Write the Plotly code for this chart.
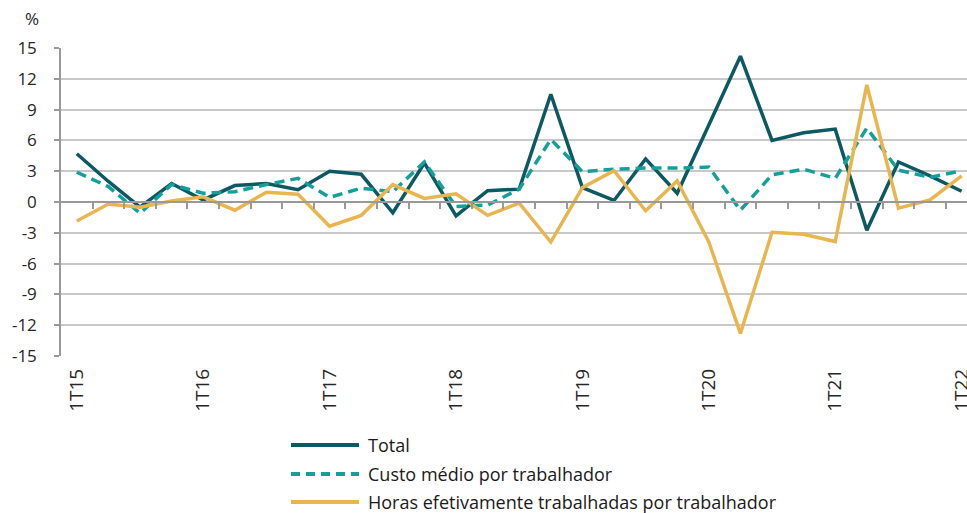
import plotly.graph_objects as go

quarters = [f"{q}T{y}" for y in range(15, 23) for q in range(1, 5)][:29]

total = [4.7, 2.0, -0.5, 1.8, 0.2, 1.6, 1.8, 1.2, 3.0, 2.7, -1.05, 3.8, -1.35, 1.1, 1.25,
         10.5, 1.4, 0.15, 4.2, 0.85, 7.5, 14.2, 6.0, 6.75, 7.1, -2.75, 3.9, 2.55, 1.05]
custo = [2.9, 1.5, -1.1, 1.7, 0.85, 1.0, 1.7, 2.3, 0.45, 1.35, 1.0, 3.9, -0.45, -0.3, 1.25,
         6.1, 2.95, 3.2, 3.3, 3.3, 3.4, -0.8, 2.65, 3.2, 2.3, 7.2, 3.1, 2.4, 3.05]
horas = [-1.85, -0.2, -0.5, 0.1, 0.5, -0.8, 0.95, 0.75, -2.35, -1.3, 1.7, 0.35, 0.8, -1.3, -0.1,
         -3.9, 1.4, 3.05, -0.85, 2.05, -3.9, -12.8, -2.95, -3.15, -3.85, 11.4, -0.6, 0.2, 2.55]

series_names = ["Total", "Custo médio por trabalhador", "Horas efetivamente trabalhadas por trabalhador"]
series_colors = ["#0d5963", "#14a09a", "#e9b54e"]
series_dash = ["solid", "10px,6px", "solid"]

tick_idx = list(range(0, 29, 4))
tick_text = [quarters[i] for i in tick_idx]
y_ticks = list(range(-15, 16, 3))
y_text = [str(v) for v in y_ticks]

x = list(range(len(quarters)))

fig = go.Figure()
for vals, name, col, dash in zip([total, custo, horas], series_names, series_colors, series_dash):
    fig.add_trace(go.Scatter(x=x, y=vals, mode="lines", name=name, showlegend=False,
                             line=dict(color=col, width=3.5, dash=dash)))
# invisible trace carrying the zero-line axis with its tick marks
fig.add_trace(go.Scatter(x=[0, 28], y=[0, 0], xaxis="x2", mode="lines", line=dict(width=0),
                         showlegend=False, hoverinfo="skip"))

# manual legend (long line samples like the reference)
W, H, L, T, B = 967, 513, 61, 48, 157
PW, PH = W - L, H - T - B
def px(xp):
    return (xp - L) / PW
def py(yp):
    return (H - B - yp) / PH

shapes = []
annotations = []
legend_y = [445, 474, 502]
for name, col, dash, yy in zip(series_names, series_colors, series_dash, legend_y):
    shapes.append(dict(type="line", xref="paper", yref="paper", x0=px(291), x1=px(359),
                       y0=py(yy), y1=py(yy), line=dict(color=col, width=4,
                       dash=("9px,6px" if dash != "solid" else "solid"))))
    annotations.append(dict(text=name, xref="paper", yref="paper", x=px(366), y=py(yy),
                            xanchor="left", yanchor="middle", showarrow=False,
                            font=dict(size=18, color="#1a1a1a")))
annotations.append(dict(text="%", xref="paper", yref="paper", x=px(32), y=py(18),
                        xanchor="center", yanchor="middle", showarrow=False,
                        font=dict(size=17, color="#262626")))

xr = [-0.5, 28.17]
fig.update_layout(
    width=W, height=H,
    margin=dict(l=L, r=0, t=T, b=B, autoexpand=False),
    paper_bgcolor="white", plot_bgcolor="white",
    font=dict(family="Open Sans, sans-serif", color="#262626"),
    showlegend=False,
    xaxis=dict(range=xr, tickmode="array", tickvals=tick_idx, ticktext=tick_text,
               tickangle=-90, showgrid=False, zeroline=False, showline=False, automargin=False,
               ticklabeloverflow="allow", ticks="", ticklabelstandoff=8,
               tickfont=dict(size=19, color="#262626"), fixedrange=True),
    xaxis2=dict(overlaying="x", matches="x", anchor="free", position=0.5, side="bottom",
                range=xr, showline=True, linecolor="#999999", linewidth=1.5, automargin=False,
                tickmode="array", tickvals=[i + 0.5 for i in range(28)], ticks="outside",
                ticklen=6, tickcolor="#999999", tickwidth=1.5, showticklabels=False,
                showgrid=False, zeroline=False),
    yaxis=dict(range=[-15, 15], tickmode="array", tickvals=y_ticks, ticktext=y_text, showgrid=True,
               gridcolor="#c8c8c8", gridwidth=1.5, zeroline=False, showline=True, automargin=False,
               linecolor="#999999", linewidth=1.5, ticks="outside", ticklen=5, ticklabelstandoff=14,
               tickcolor="#999999", tickwidth=1.5, tickfont=dict(size=17, color="#262626")),
    shapes=shapes,
    annotations=annotations,
)

fig.write_html("out.html", config={"displayModeBar": False},
               post_script="document.body.style.margin='0';document.body.style.overflow='hidden';")
